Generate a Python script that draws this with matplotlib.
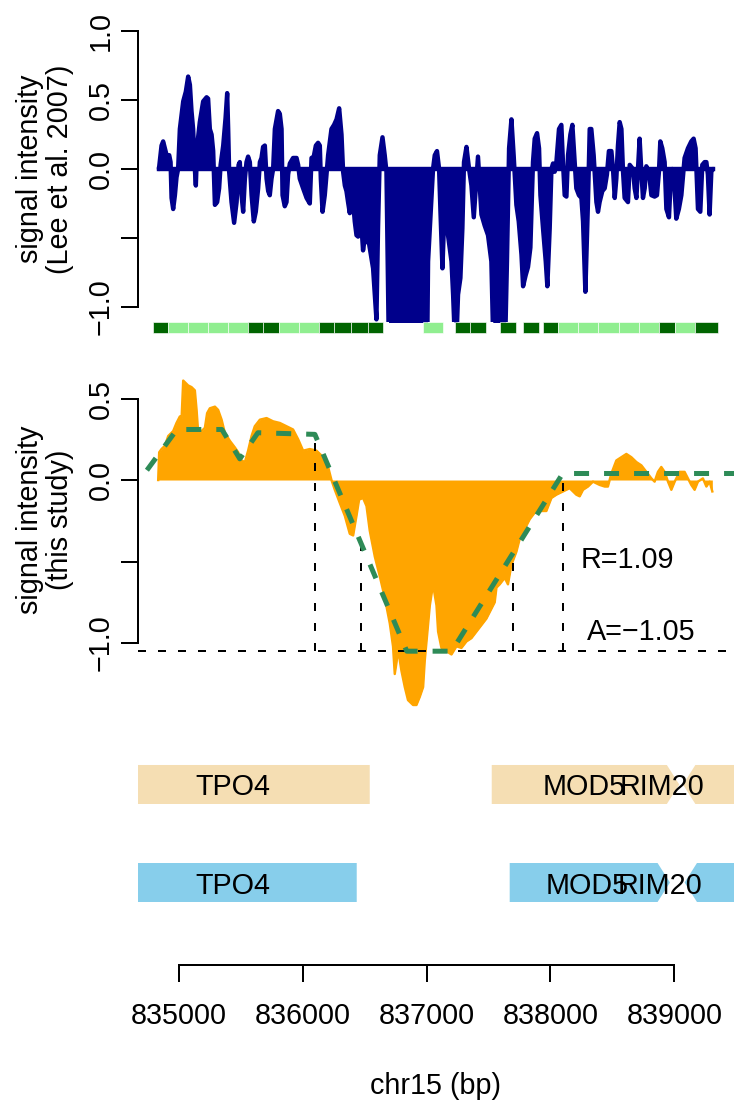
import numpy as np
import matplotlib
matplotlib.use("Agg")
import matplotlib.pyplot as plt
from matplotlib.patches import Polygon, Rectangle

plt.rcParams["font.family"] = ["Liberation Sans", "DejaVu Sans"]
plt.rcParams["font.size"] = 14.4

NAVY = "#00008B"
ORANGE = "#FFA500"
SEAGREEN = "#2E8B57"
DARKGREEN = "#006400"
LIGHTGREEN = "#90EE90"
WHEAT = "#F5DEB3"
SKYBLUE = "#87CEEB"

# --- data: Lee et al. 2007 signal (top panel)
lee_pos = [834839, 834860, 834873, 834901, 834922, 834933, 834941, 834954, 834968, 834981,
           834994, 835008, 835035, 835056, 835075, 835089, 835102, 835115, 835129, 835137,
           835148, 835169, 835196, 835224, 835236, 835250, 835264, 835277, 835291, 835309,
           835325, 835337, 835358, 835377, 835390, 835398, 835406, 835425, 835446, 835466,
           835482, 835492, 835506, 835519, 835533, 835546, 835559, 835573, 835587, 835605,
           835621, 835640, 835654, 835667, 835680, 835694, 835708, 835721, 835734, 835748,
           835761, 835775, 835801, 835815, 835829, 835837, 835855, 835869, 835882, 835896,
           835922, 835950, 835963, 835976, 836003, 836031, 836057, 836071, 836089, 836106,
           836124, 836138, 836146, 836160, 836178, 836192, 836205, 836232, 836253, 836273,
           836294, 836313, 836326, 836340, 836353, 836366, 836380, 836394, 836407, 836420,
           836434, 836447, 836461, 836474, 836487, 836501, 836515, 836528, 836541, 836568,
           836582, 836595, 836608, 836622, 836644, 836662, 836676, 836697, 837004, 837012,
           837052, 837066, 837084, 837101, 837112, 837128, 837139, 837155, 837173, 837201,
           837214, 837235, 837254, 837273, 837289, 837302, 837322, 837343, 837362, 837381,
           837397, 837415, 837429, 837443, 837469, 837496, 837523, 837542, 837631, 837649,
           837666, 837685, 837703, 837725, 837744, 837766, 837779, 837800, 837819, 837838,
           837859, 837873, 837892, 837908, 837919, 837940, 837962, 837975, 837994, 838008,
           838021, 838034, 838048, 838069, 838088, 838101, 838115, 838129, 838142, 838161,
           838177, 838196, 838209, 838230, 838250, 838263, 838282, 838303, 838317, 838330,
           838349, 838371, 838384, 838397, 838419, 838438, 838456, 838472, 838492, 838505,
           838519, 838532, 838545, 838559, 838573, 838586, 838599, 838626, 838640, 838666,
           838680, 838694, 838707, 838720, 838734, 838747, 838761, 838774, 838795, 838815,
           838841, 838860, 838876, 838887, 838903, 838922, 838936, 838957, 838968, 838984,
           838997, 839016, 839037, 839057, 839083, 839110, 839137, 839156, 839172, 839191,
           839210, 839226, 839245, 839259, 839271, 839285, 839299, 839312]
lee_val = [0.0, 0.17, 0.20, 0.10, 0.10, 0.05, -0.21, -0.29, -0.19, -0.06,
           0.0, 0.29, 0.49, 0.56, 0.67, 0.61, 0.42, 0.29, 0.0, -0.12,
           0.17, 0.34, 0.49, 0.52, 0.51, 0.29, 0.25, 0.13, -0.26, -0.24,
           -0.14, 0.03, 0.17, 0.37, 0.55, 0.29, -0.02, -0.24, -0.39, -0.24,
           0.03, 0.05, -0.19, -0.31, -0.07, 0.05, 0.09, 0.05, -0.19, -0.38,
           -0.31, -0.14, 0.05, 0.08, 0.16, 0.17, -0.07, -0.16, -0.19, -0.07,
           0.0, 0.29, 0.42, 0.40, 0.29, -0.19, -0.27, -0.24, -0.04, 0.04,
           0.08, 0.08, 0.03, -0.07, -0.14, -0.21, -0.25, 0.08, 0.09, 0.17,
           0.19, 0.17, -0.07, -0.31, -0.19, -0.04, 0.10, 0.29, 0.32, 0.36,
           0.44, 0.25, -0.02, -0.12, -0.16, -0.24, -0.32, -0.19, -0.24, -0.38,
           -0.48, -0.49, -0.36, -0.41, -0.59, -0.50, -0.53, -0.50, -0.57, -0.72,
           -0.91, -1.09, -0.43, 0.10, 0.23, 0.10, -0.02, -1.4, -1.4, -0.67,
           0.0, 0.10, 0.13, 0.0, -0.31, -0.72, -0.43, -0.24, -0.48, -0.67,
           -0.91, -1.4, -0.91, -0.79, -0.43, 0.05, 0.16, 0.0, -0.12, -0.35,
           -0.14, 0.09, -0.12, -0.33, -0.41, -0.48, -0.67, -1.4, -1.4, -0.67,
           0.15, 0.36, 0.10, -0.26, -0.38, -0.62, -0.85, -0.77, -0.71, -0.57,
           0.05, 0.22, 0.26, 0.15, -0.19, -0.43, -0.67, -0.85, -0.43, 0.0,
           0.04, -0.02, 0.05, 0.29, 0.32, 0.05, -0.19, -0.20, 0.10, 0.25,
           0.32, 0.05, -0.14, -0.19, -0.21, -0.38, -0.89, -0.24, 0.29, 0.29,
           0.10, -0.24, -0.31, -0.24, -0.16, -0.14, -0.04, 0.13, 0.13, 0.0,
           -0.21, -0.07, 0.17, 0.34, 0.29, -0.02, -0.21, -0.24, 0.03, 0.0,
           -0.14, -0.21, 0.0, 0.22, -0.02, -0.21, -0.14, 0.02, -0.02, -0.19,
           -0.20, -0.19, -0.02, 0.20, 0.15, 0.05, -0.29, -0.35, -0.14, 0.0,
           -0.07, -0.36, -0.29, -0.19, 0.08, 0.15, 0.20, 0.22, 0.15, -0.29,
           -0.31, 0.03, 0.05, 0.05, -0.04, -0.33, -0.02, 0.0]

# bound / unbound tiles below the top panel
tile_start = [834790, 834911, 835073, 835234, 835395, 835557, 835678, 835807, 835968, 836130,
              836251, 836388, 836525, 836969, 837227, 837348, 837590, 837776, 837937, 838059,
              838220, 838381, 838551, 838712, 838874, 839003, 839164]
tile_end = [834911, 835073, 835234, 835395, 835557, 835678, 835807, 835968, 836130, 836251,
            836388, 836525, 836646, 837130, 837348, 837477, 837720, 837905, 838059, 838220,
            838381, 838551, 838712, 838874, 839003, 839164, 839350]
tile_bound = [1, 0, 0, 0, 0, 1, 1, 0, 0, 1, 1, 1, 1, 0, 1, 1, 1, 1, 1, 0, 0, 0, 0, 0, 1, 0, 1]

# --- data: this study signal (middle panel)
study_pos = [834833, 834841, 834860, 834887, 834914, 834954, 834981, 835008, 835022, 835035,
             835048, 835075, 835102, 835129, 835143, 835156, 835183, 835210, 835228, 835250,
             835291, 835317, 835345, 835371, 835412, 835452, 835479, 835506, 835533, 835559,
             835587, 835613, 835654, 835708, 835761, 835815, 835869, 835922, 835963, 836003,
             836057, 836111, 836165, 836205, 836232, 836259, 836299, 836340, 836380, 836407,
             836434, 836455, 836487, 836515, 836541, 836582, 836622, 836662, 836703, 836729,
             836743, 836757, 836770, 836797, 836824, 836850, 836891, 836918, 836945, 836972,
             836985, 837026, 837052, 837080, 837093, 837120, 837160, 837201, 837241, 837281,
             837322, 837362, 837402, 837443, 837483, 837523, 837550, 837564, 837590, 837631,
             837657, 837685, 837725, 837752, 837792, 837833, 837873, 837913, 837967, 838008,
             838048, 838101, 838155, 838209, 838236, 838263, 838303, 838343, 838397, 838438,
             838464, 838492, 838532, 838573, 838613, 838653, 838694, 838734, 838774, 838815,
             838841, 838868, 838895, 838922, 838949, 838976, 839003, 839043, 839083, 839110,
             839137, 839164, 839191, 839231, 839259, 839285, 839307]
study_val = [0.0, 0.17, 0.19, 0.21, 0.27, 0.30, 0.35, 0.39, 0.38, 0.61,
             0.60, 0.58, 0.57, 0.55, 0.43, 0.29, 0.30, 0.32, 0.41, 0.44,
             0.45, 0.43, 0.37, 0.29, 0.24, 0.20, 0.17, 0.12, 0.11, 0.18,
             0.27, 0.33, 0.37, 0.38, 0.36, 0.35, 0.33, 0.31, 0.25, 0.18,
             0.19, 0.18, 0.14, 0.08, 0.0, -0.06, -0.14, -0.22, -0.33, -0.34,
             -0.22, -0.12, -0.11, -0.16, -0.31, -0.47, -0.59, -0.72, -0.88, -1.02,
             -1.19, -1.12, -1.04, -1.17, -1.27, -1.35, -1.38, -1.38, -1.33, -1.27,
             -1.11, -0.77, -0.64, -0.77, -0.93, -1.03, -1.05, -1.07, -1.02, -1.03,
             -0.99, -0.97, -0.93, -0.89, -0.85, -0.79, -0.75, -0.66, -0.64, -0.60,
             -0.64, -0.52, -0.44, -0.36, -0.30, -0.24, -0.20, -0.19, -0.19, -0.11,
             -0.09, -0.07, -0.05, -0.09, -0.10, -0.06, -0.04, -0.01, -0.03, -0.04,
             -0.04, 0.04, 0.12, 0.14, 0.16, 0.14, 0.11, 0.09, 0.05, 0.01,
             -0.01, 0.05, 0.08, 0.05, -0.01, -0.06, -0.01, 0.05, 0.05, 0.01,
             -0.03, -0.06, -0.01, 0.01, -0.04, -0.01, -0.07]

# segmented fit, boundaries and summary values
fit_pos = [834742, 834984, 835347, 835492, 835638, 836098, 836840, 837203, 838099, 839600]
fit_val = [0.06, 0.31, 0.31, 0.13, 0.29, 0.28, -1.05, -1.05, 0.04, 0.04]
mark_pos = [836098, 836468, 837695, 838099]
mark_top = [0.28, -0.38, -0.51, 0.04]
amplitude = -1.05
recovery = 1.09

# gene annotations (two sources)
gene_names = ["TPO4", "MOD5", "RIM20"]
gene_strand = ["-", "+", "-"]
annot1_start = [834330, 837526, 839070]
annot1_end = [836541, 839040, 840600]
annot1_label = [835436, 838276, 838898]
annot2_start = [834435, 837671, 839083]
annot2_end = [836436, 838965, 840600]
annot2_label = [835436, 838300, 838882]

x_ticks = [835000, 836000, 837000, 838000, 839000]
XLIM = (834670, 839482)

W, H, DPI = 734, 1102, 144
fig = plt.figure(figsize=(W / DPI, H / DPI), dpi=DPI)
fig.patch.set_facecolor("white")


def px_axes(left, top, right, bottom):
    return fig.add_axes([left / W, 1 - bottom / H, (right - left) / W, (bottom - top) / H])


def r_style_y(ax, ticks, labels, lo, hi):
    for s in ("top", "right", "bottom"):
        ax.spines[s].set_visible(False)
    ax.spines["left"].set_bounds(lo, hi)
    ax.spines["left"].set_linewidth(1)
    ax.set_xticks([])
    ax.set_yticks(ticks)
    ax.set_yticklabels(labels, rotation=90, va="center")
    ax.tick_params(axis="y", length=8.5, width=1, pad=3)


M = "\u2212"

# top panel
ax1 = px_axes(138, 20, 734, 322)
ax1.set_xlim(XLIM)
ax1.set_ylim(-1.109, 1.08)
ax1.fill_between(lee_pos, 0, lee_val, color=NAVY, lw=0)
ax1.plot(lee_pos, lee_val, color=NAVY, lw=2.2, solid_joinstyle="round", solid_capstyle="round")
ax1.plot([lee_pos[0], lee_pos[-1]], [0, 0], color=NAVY, lw=2.2)
for s, e, b in zip(tile_start, tile_end, tile_bound):
    ax1.add_patch(Rectangle((s, -1.188), e - s, 0.079, facecolor=DARKGREEN if b else LIGHTGREEN,
                            edgecolor="white", lw=0.3, clip_on=False))
r_style_y(ax1, [-1, -0.5, 0, 0.5, 1], [M + "1.0", "", "0.0", "0.5", "1.0"], -1, 1)

# middle panel
ax2 = px_axes(138, 372, 734, 712)
ax2.set_xlim(XLIM)
ax2.set_ylim(-1.423, 0.6626)
ax2.fill_between(study_pos, 0, study_val, color=ORANGE, lw=0)
ax2.plot(study_pos, study_val, color=ORANGE, lw=1.2)
ax2.axhline(amplitude, color="black", lw=1, ls=(0, (4, 6)))
for p, t in zip(mark_pos, mark_top):
    ax2.plot([p, p], [amplitude, t], color="black", lw=1, ls=(0, (4, 6)))
ax2.plot(fit_pos, fit_val, color=SEAGREEN, lw=2.5, ls=(0, (3, 3)))
ax2.text(838619, -0.49, f"R={recovery:.2f}", ha="center", va="center")
ax2.text(838733, -0.93, f"A={M}{abs(amplitude):.2f}", ha="center", va="center")
r_style_y(ax2, [-1, -0.5, 0, 0.5], [M + "1.0", "", "0.0", "0.5"], -1, 0.5)

# gene tracks + x axis
ax3 = px_axes(138, 740, 734, 965)
ax3.set_xlim(XLIM)
ax3.set_ylim(0, 1)
HEAD = 100


def draw_genes(starts, ends, labels, y0, y1, color):
    ym = (y0 + y1) / 2
    for name, s, e, st, lp in zip(gene_names, starts, ends, gene_strand, labels):
        h = min(HEAD, e - s)
        if st == "+":
            pts = [(s, y0), (e - h, y0), (e, ym), (e - h, y1), (s, y1)]
        else:
            pts = [(e, y0), (s + h, y0), (s, ym), (s + h, y1), (e, y1)]
        ax3.add_patch(Polygon(pts, closed=True, facecolor=color, edgecolor="none"))
        ax3.text(lp, ym, name, ha="center", va="center_baseline")


draw_genes(annot1_start, annot1_end, annot1_label, 0.7156, 0.8889, WHEAT)
draw_genes(annot2_start, annot2_end, annot2_label, 0.28, 0.4533, SKYBLUE)

for s in ("top", "right", "left"):
    ax3.spines[s].set_visible(False)
ax3.spines["bottom"].set_bounds(x_ticks[0], x_ticks[-1])
ax3.spines["bottom"].set_linewidth(1)
ax3.set_yticks([])
ax3.set_xticks(x_ticks)
ax3.set_xticklabels([str(t) for t in x_ticks])
ax3.tick_params(axis="x", length=8.5, width=1, pad=10)

fig.text(436 / W, 1 - 1086 / H, "chr15 (bp)", ha="center", va="center")
fig.text(45 / W, 1 - 169 / H, "signal intensity\n(Lee et al. 2007)", rotation=90,
         ha="center", va="center", linespacing=1.1)
fig.text(45 / W, 1 - 520 / H, "signal intensity\n(this study)", rotation=90,
         ha="center", va="center", linespacing=1.1)

fig.savefig("out.png", dpi=DPI, facecolor="white")
